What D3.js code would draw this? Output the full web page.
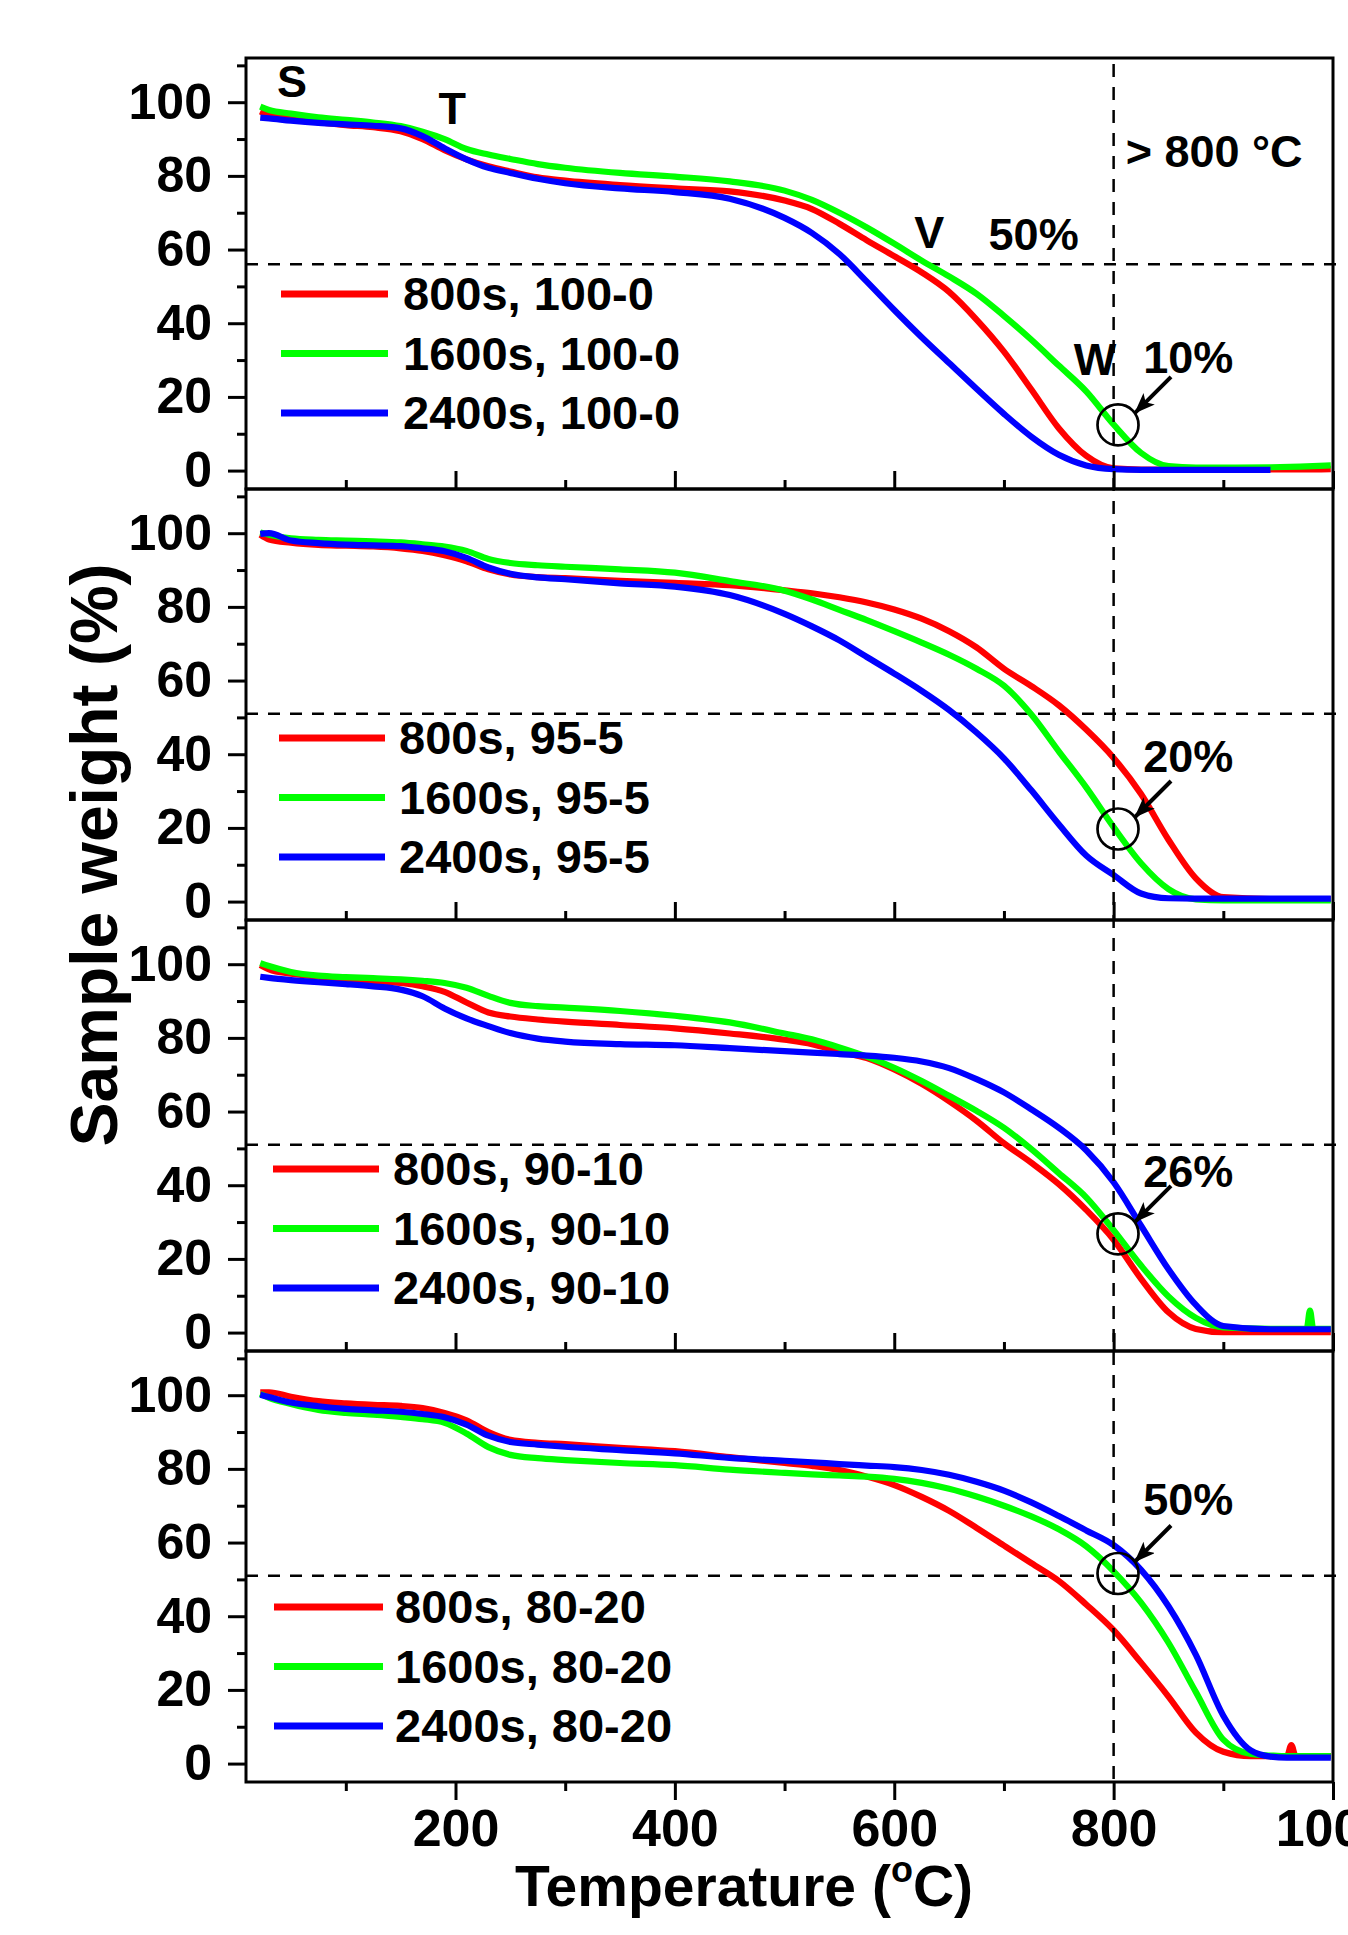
<!DOCTYPE html>
<html lang="en">
<head>
<meta charset="UTF-8">
<title>TGA curves</title>
<script src="https://cdn.jsdelivr.net/npm/d3@7/dist/d3.min.js"></script>
<style>
    body { margin: 0; background: #fff; }
    svg { display: block; }
    text { font-family: "Liberation Sans", Arial, Helvetica, sans-serif; font-weight: bold; fill: #000; }
</style>
</head>
<body>
<svg id="chart" width="1348" height="1935"></svg>
<script>
// temperature grids (deg C) for each panel
const tempsA = [22, 30, 50, 75, 100, 125, 150, 170, 190, 210, 230, 250, 275, 300, 350, 400, 450, 500, 525, 550,
                575, 600, 625, 650, 675, 700, 725, 750, 775, 800, 825, 850, 875, 900, 943, 970, 998];
const tempsC = [22, 30, 50, 75, 100, 125, 150, 170, 190, 210, 230, 250, 275, 300, 350, 400, 450, 500, 525, 550,
                575, 600, 625, 650, 675, 700, 725, 750, 775, 800, 825, 850, 875, 900, 943, 970, 976, 979, 982, 998];
const tempsD = [22, 30, 50, 75, 100, 125, 150, 170, 190, 210, 230, 250, 275, 300, 350, 400, 450, 500, 525, 550,
                575, 600, 625, 650, 675, 700, 725, 750, 775, 800, 825, 850, 875, 900, 925, 943, 958, 962, 966, 998];

// panel 1: 100-0
const red100 = [97.5, 96.5, 95.5, 94.6, 93.8, 93.2, 92.1, 90, 87, 84.5, 82.6, 81.2, 79.6, 78.7, 77.5, 76.6, 75.8, 73.3, 71, 67,
                62.5, 58.2, 53.8, 48.5, 41, 32.3, 22, 11.5, 4, 0.6, 0.3, 0.3, 0.3, 0.3, 0.3, 0.3, 0.4];
const green100 = [98.8, 97.9, 96.9, 95.9, 95.2, 94.5, 93.5, 92, 90, 87.3, 85.8, 84.6, 83.2, 82.2, 80.8, 79.8, 78.5, 76, 73.5, 70,
                  66, 61.6, 57, 52.7, 48, 42, 35.5, 28.5, 21.5, 12.5, 4.8, 1.2, 0.8, 0.8, 0.9, 1.1, 1.4];
const blue100 = [95.8, 95.6, 95, 94.4, 94, 93.6, 92.9, 90.8, 87.5, 84.5, 82.2, 80.8, 79.2, 78, 76.6, 75.6, 73.8, 68.6, 64.5, 58.8,
                 51.3, 43.6, 36.2, 29.2, 22.2, 15.4, 9.2, 4.3, 1.4, 0.4, 0.2, 0.2, 0.2, 0.2, 0.2, null, null];

// panel 2: 95-5
const red95 = [99.6, 98.3, 97.4, 96.8, 96.6, 96.4, 95.9, 95.2, 94, 92.4, 90.2, 88.8, 88.1, 87.8, 87.1, 86.5, 85.9, 84.5, 83.7, 82.6,
               81.2, 79.3, 76.8, 73.4, 69, 63.2, 58.5, 53.3, 46.7, 39, 29.2, 16.8, 6.3, 1.2, 0.7, 0.7, 0.7];
const green95 = [100.2, 99.6, 98.6, 98.2, 98, 97.8, 97.5, 97, 96.4, 95.2, 93, 91.9, 91.3, 90.9, 90.2, 89.3, 87, 84.4, 82, 79.2,
                 76.4, 73.4, 70.3, 67, 63.2, 58.6, 50.8, 40.8, 31, 20.2, 10.4, 3.4, 0.6, 0.3, 0.3, 0.3, 0.3];
const blue95 = [99.8, 100, 98, 97.3, 96.9, 96.7, 96.5, 95.9, 95.1, 93.3, 90.7, 89, 88, 87.5, 86.4, 85.5, 83.2, 78.1, 74.7, 70.9,
                66.4, 61.9, 57.2, 52, 45.9, 38.9, 30.2, 21, 12.5, 7.2, 2.2, 0.9, 0.8, 0.8, 0.8, 0.8, 0.8];

// panel 3: 90-10
const red90 = [99.8, 98.6, 97.4, 96.6, 95.9, 95.5, 94.9, 94, 92.5, 89.6, 86.9, 85.8, 85, 84.4, 83.5, 82.6, 81.2, 79.5, 78.3, 76.3,
               74.5, 71.4, 67.5, 62.8, 57.5, 51.4, 46.1, 40.3, 33.3, 25.2, 14.6, 5.5, 1, 0.1, 0.1, 0.1, 0.1, 0.1, 0.1, 0.1];
const green90 = [100.3, 99.5, 97.9, 96.9, 96.5, 96.2, 95.9, 95.5, 94.9, 93.6, 91.4, 89.5, 88.6, 88.2, 87.3, 86, 84.2, 81.2, 79.6, 77.4,
                 74.9, 71.9, 68.3, 64.3, 60.2, 55.6, 49.8, 43.3, 36.7, 27.8, 18.2, 9.8, 4, 1.4, 1, 1, 1, 6, 1, 1];
const blue90 = [96.6, 96.3, 95.7, 95.1, 94.6, 94, 93.1, 91.3, 88, 85.3, 83.2, 81.3, 79.8, 79, 78.3, 78, 77.2, 76.4, 76, 75.6,
                75.2, 74.6, 73.6, 71.8, 68.8, 65.2, 60.6, 55.6, 49.5, 40.8, 29, 17.2, 7.5, 1.8, 0.9, 0.9, 0.9, 0.9, 0.9, 0.9];

// panel 4: 80-20
const red80 = [100.8, 100.8, 99.6, 98.4, 97.8, 97.4, 97.1, 96.5, 95.2, 93.2, 90, 87.9, 87.1, 86.7, 85.7, 84.8, 83.2, 81.6, 80.8, 79.7,
               77.9, 75.6, 72.4, 68.6, 64, 59.2, 54.4, 49.6, 43.2, 36.2, 27.4, 18.2, 8.4, 3.2, 2, 2, 2, 5, 2, 2];
const green80 = [100.4, 99.3, 97.6, 96, 95.2, 94.7, 94.1, 93.5, 92.5, 89.6, 85.9, 83.8, 82.9, 82.4, 81.6, 81, 79.8, 78.9, 78.5, 78.2,
                 77.9, 77.3, 76.2, 74.6, 72.5, 70, 67.1, 63.6, 59, 52.2, 43.7, 32.8, 19.4, 6.5, 2.6, 2.2, 2, 2, 2, 2];
const blue80 = [100.1, 99.5, 98, 97, 96.3, 95.9, 95.5, 94.9, 94, 92, 89, 87.3, 86.6, 86, 85.1, 84.2, 83, 82.2, 81.8, 81.3,
                80.9, 80.5, 79.7, 78.4, 76.5, 74.1, 70.9, 67.2, 63.3, 59.3, 52.6, 42.7, 29.5, 13, 3.6, 1.9, 1.6, 1.6, 1.6, 1.6];

const seriesColors = ["#ff0000", "#00ff00", "#0000ff"];
const panelLabels = [
    ["800s, 100-0", "1600s, 100-0", "2400s, 100-0"],
    ["800s, 95-5", "1600s, 95-5", "2400s, 95-5"],
    ["800s, 90-10", "1600s, 90-10", "2400s, 90-10"],
    ["800s, 80-20", "1600s, 80-20", "2400s, 80-20"]
];
const guideLevels = [56, 51, 51, 51];
const markedWeights = [12.4, 19.7, 26.8, 51.6];
const markedText = ["10%", "20%", "26%", "50%"];
const yTicks = [0, 20, 40, 60, 80, 100];
const yMinor = [10, 30, 50, 70, 90, 110];
const xTicks = [200, 400, 600, 800, 1000];
const xMinor = [100, 300, 500, 700, 900];

const panels = [
    {temps: tempsA, data: [red100, green100, blue100]},
    {temps: tempsA, data: [red95, green95, blue95]},
    {temps: tempsC, data: [red90, green90, blue90]},
    {temps: tempsD, data: [red80, green80, blue80]}
];

// layout
const left = 246, right = 1333, top0 = 58, panelH = 431;
const legendPos = [
    {x1: 281, x2: 388, tx: 403, y0: 236},
    {x1: 279, x2: 385, tx: 399, y0: 249},
    {x1: 273, x2: 379, tx: 393, y0: 249},
    {x1: 274, x2: 383, tx: 395, y0: 256}
];
const noteDy = [-52, -57, -47, -58];

const svg = d3.select("#chart");

const defs = svg.append("defs");
defs.append("marker")
    .attr("id", "arrow")
    .attr("markerUnits", "userSpaceOnUse")
    .attr("markerWidth", 24).attr("markerHeight", 18)
    .attr("refX", 20).attr("refY", 8)
    .attr("orient", "auto")
    .append("path")
    .attr("d", "M0,0 L21,8 L0,16 L5,8 Z")
    .attr("fill", "#000");

const x = d3.scaleLinear().domain([9, 1000]).range([left, right]);

panels.forEach((p, i) => {
    const top = top0 + i * panelH;
    const y = d3.scaleLinear().domain([-5, 112]).range([top + panelH, top]);
    const g = svg.append("g");

    // dashed guide line
    g.append("line")
        .attr("x1", left).attr("x2", right + 6)
        .attr("y1", y(guideLevels[i])).attr("y2", y(guideLevels[i]))
        .attr("stroke", "#000").attr("stroke-width", 2.5)
        .attr("stroke-dasharray", "12,10");

    // curves
    const line = d3.line()
        .defined(d => d[1] !== null)
        .x(d => x(d[0]))
        .y(d => y(d[1]))
        .curve(d3.curveMonotoneX);

    p.data.forEach((vals, k) => {
        g.append("path")
            .datum(p.temps.map((t, j) => [t, vals[j]]))
            .attr("d", line)
            .attr("fill", "none")
            .attr("stroke", seriesColors[k])
            .attr("stroke-width", 6.2)
            .attr("stroke-linejoin", "round");
    });

    // y axis, major + minor
    const yAx = g.append("g")
        .attr("transform", `translate(${left},0)`)
        .call(d3.axisLeft(y).tickValues(yTicks).tickSize(18).tickPadding(16).tickFormat(d3.format("d")));
    yAx.select(".domain").remove();
    yAx.selectAll("line").attr("stroke-width", 3);
    yAx.selectAll("text").style("font-size", "50px").attr("font-family", null);

    const yMin = g.append("g")
        .attr("transform", `translate(${left},0)`)
        .call(d3.axisLeft(y).tickValues(yMinor).tickSize(9).tickFormat(""));
    yMin.select(".domain").remove();
    yMin.selectAll("line").attr("stroke-width", 3);

    // x axis ticks: inward on stacked panels, outward with labels on the last one
    const last = i === panels.length - 1;
    const xAx = g.append("g")
        .attr("transform", `translate(0,${top + panelH})`)
        .call(d3.axisBottom(x).tickValues(xTicks).tickSize(last ? 18 : -18).tickPadding(9)
            .tickFormat(last ? d3.format("d") : ""));
    xAx.select(".domain").remove();
    xAx.selectAll("line").attr("stroke-width", 3);
    xAx.selectAll("text").style("font-size", "52px").attr("font-family", null);

    const xMin = g.append("g")
        .attr("transform", `translate(0,${top + panelH})`)
        .call(d3.axisBottom(x).tickValues(xMinor).tickSize(last ? 9 : -9).tickFormat(""));
    xMin.select(".domain").remove();
    xMin.selectAll("line").attr("stroke-width", 3);

    // frame
    g.append("rect")
        .attr("x", left).attr("y", top)
        .attr("width", right - left).attr("height", panelH)
        .attr("fill", "none").attr("stroke", "#000").attr("stroke-width", 3);

    // legend
    const lp = legendPos[i];
    panelLabels[i].forEach((lab, k) => {
        const ly = top + lp.y0 + k * 59.5;
        g.append("line")
            .attr("x1", lp.x1).attr("x2", lp.x2)
            .attr("y1", ly).attr("y2", ly)
            .attr("stroke", seriesColors[k]).attr("stroke-width", 7);
        g.append("text")
            .attr("x", lp.tx).attr("y", ly + 16)
            .style("font-size", "47px")
            .text(lab);
    });

    // circle + arrow + percentage
    const cx = x(804), cy = y(markedWeights[i]);
    g.append("circle")
        .attr("cx", cx).attr("cy", cy).attr("r", 20.5)
        .attr("fill", "none").attr("stroke", "#000").attr("stroke-width", 2.7);
    g.append("line")
        .attr("x1", cx + 53).attr("y1", cy - 48)
        .attr("x2", cx + 17).attr("y2", cy - 12)
        .attr("stroke", "#000").attr("stroke-width", 4)
        .attr("marker-end", "url(#arrow)");
    g.append("text")
        .attr("x", x(827))
        .attr("y", cy + noteDy[i])
        .style("font-size", "45px")
        .text(markedText[i]);
});

// panel 1 extra labels
const y1 = d3.scaleLinear().domain([-5, 112]).range([top0 + panelH, top0]);
const notes = [
    {t: 51, v: 101.4, s: "S", a: "middle"},
    {t: 197, v: 94.1, s: "T", a: "middle"},
    {t: 632, v: 60.4, s: "V", a: "middle"},
    {t: 686, v: 59.9, s: "50%", a: "start"},
    {t: 811, v: 82.4, s: "> 800 \u00B0C", a: "start"},
    {t: 783, v: 25.9, s: "W", a: "middle"}
];
svg.append("g").selectAll("text")
    .data(notes)
    .join("text")
    .attr("x", d => x(d.t))
    .attr("y", d => y1(d.v))
    .attr("text-anchor", d => d.a)
    .style("font-size", "45px")
    .text(d => d.s);

// vertical 800 C guide across all panels
svg.append("line")
    .attr("x1", x(800)).attr("x2", x(800))
    .attr("y1", top0 + 6).attr("y2", top0 + 4 * panelH)
    .attr("stroke", "#000").attr("stroke-width", 2.5)
    .attr("stroke-dasharray", "13,10");

// axis titles
svg.append("text")
    .attr("transform", "translate(117,855) rotate(-90)")
    .attr("text-anchor", "middle")
    .style("font-size", "66px")
    .text("Sample weight (%)");

const xt = svg.append("text")
    .attr("x", 515).attr("y", 1906)
    .style("font-size", "57px");
xt.append("tspan").text("Temperature (");
xt.append("tspan").attr("dy", -24).style("font-size", "36px").text("o");
xt.append("tspan").attr("dy", 24).text("C)");
</script>
</body>
</html>
